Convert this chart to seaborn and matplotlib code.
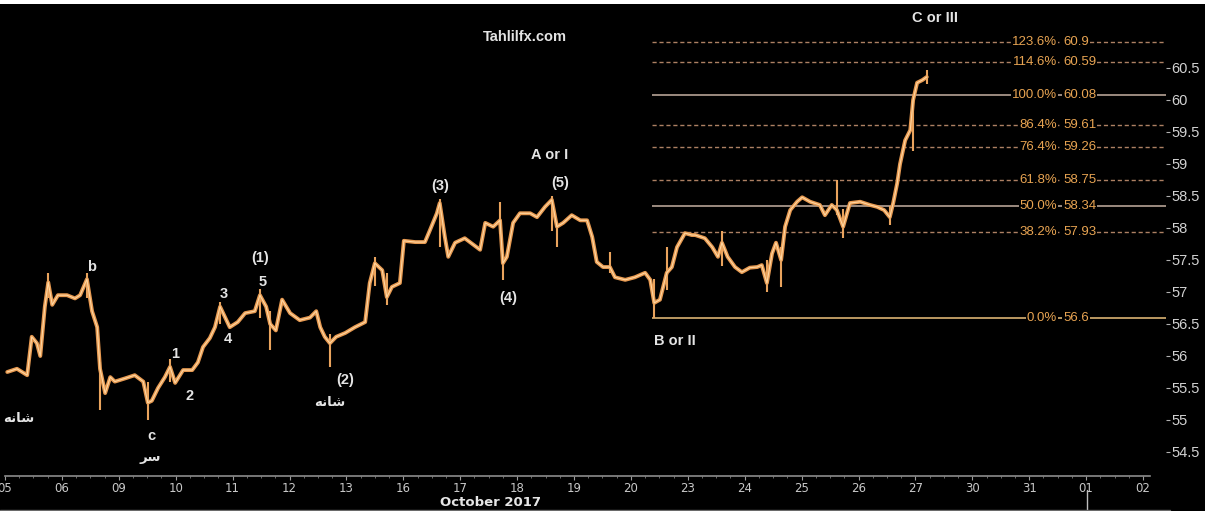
import matplotlib

matplotlib.use("Agg")

import pandas as pd
import seaborn as sns
import matplotlib.pyplot as plt
from matplotlib import font_manager
from matplotlib.lines import Line2D
from matplotlib.patches import Rectangle


# time in trading days (0 = Oct 05 open), price
price_t = [0.04, 0.21, 0.39, 0.47, 0.56, 0.62, 0.70, 0.76, 0.83, 0.93,
           1.09, 1.23, 1.32, 1.44, 1.53, 1.62, 1.67, 1.76, 1.85, 1.93,
           2.11, 2.28, 2.43, 2.51, 2.58, 2.69, 2.81, 2.90, 2.99, 3.13,
           3.29, 3.39, 3.48, 3.60, 3.69, 3.78, 3.87, 3.95, 4.09, 4.22,
           4.39, 4.48, 4.59, 4.66, 4.76, 4.87, 5.01, 5.18, 5.36, 5.47,
           5.54, 5.62, 5.71, 5.82, 5.98, 6.15, 6.33, 6.41, 6.50, 6.63,
           6.71, 6.80, 6.94, 7.01, 7.21, 7.38, 7.47, 7.59, 7.64, 7.73,
           7.79, 7.91, 8.08, 8.17, 8.35, 8.44, 8.58, 8.70, 8.75, 8.82,
           8.93, 9.05, 9.23, 9.35, 9.49, 9.61, 9.70, 9.81, 9.96, 10.11,
           10.23, 10.32, 10.40, 10.51, 10.63, 10.72, 10.90, 11.07, 11.25, 11.34,
           11.41, 11.51, 11.63, 11.72, 11.81, 11.95, 12.07, 12.13, 12.30, 12.43,
           12.53, 12.60, 12.70, 12.83, 12.95, 13.09, 13.22, 13.30, 13.39, 13.48,
           13.55, 13.64, 13.71, 13.80, 13.92, 14.01, 14.15, 14.32, 14.41, 14.53,
           14.62, 14.73, 14.85, 15.03, 15.20, 15.33, 15.45, 15.55, 15.61, 15.68,
           15.73, 15.82, 15.91, 15.96, 16.03, 16.12, 16.20]
price_v = [55.75, 55.80, 55.70, 56.30, 56.20, 56.00, 56.77, 57.15, 56.80, 56.95,
           56.95, 56.90, 56.95, 57.20, 56.70, 56.45, 55.80, 55.42, 55.67, 55.60,
           55.65, 55.70, 55.60, 55.27, 55.30, 55.50, 55.67, 55.83, 55.58, 55.78,
           55.78, 55.90, 56.14, 56.28, 56.45, 56.77, 56.60, 56.45, 56.53, 56.67,
           56.70, 56.95, 56.77, 56.50, 56.40, 56.88, 56.67, 56.56, 56.60, 56.70,
           56.45, 56.30, 56.20, 56.30, 56.36, 56.45, 56.53, 57.14, 57.45, 57.34,
           56.92, 57.08, 57.14, 57.80, 57.78, 57.78, 57.97, 58.23, 58.39, 57.86,
           57.55, 57.77, 57.84, 57.78, 57.66, 58.08, 58.02, 58.12, 57.45, 57.55,
           58.08, 58.23, 58.23, 58.17, 58.33, 58.44, 58.02, 58.08, 58.20, 58.12,
           58.12, 57.86, 57.47, 57.39, 57.39, 57.23, 57.19, 57.23, 57.30, 57.19,
           56.83, 56.88, 57.30, 57.39, 57.70, 57.92, 57.89, 57.89, 57.84, 57.70,
           57.55, 57.77, 57.55, 57.39, 57.31, 57.38, 57.39, 57.42, 57.14, 57.60,
           57.77, 57.50, 58.02, 58.28, 58.41, 58.48, 58.41, 58.36, 58.20, 58.36,
           58.28, 58.02, 58.39, 58.41, 58.36, 58.33, 58.28, 58.17, 58.39, 58.70,
           59.00, 59.37, 59.53, 60.00, 60.27, 60.31, 60.36]

# high/low wicks of the larger bars
wick_t = [0.76, 1.44, 1.67, 2.51, 2.90, 3.78, 4.48, 4.66, 5.71, 6.50,
          6.71, 7.64, 8.70, 8.75, 9.61, 9.70, 10.63, 11.41, 11.63, 12.60,
          13.39, 13.64, 14.62, 14.73, 15.55, 15.96, 16.20]
wick_lo = [56.90, 56.90, 55.16, 55.00, 55.60, 56.50, 56.60, 56.10, 55.83, 57.10,
           56.80, 57.70, 57.90, 57.19, 57.95, 57.70, 57.30, 56.60, 57.03, 57.40,
           57.00, 57.08, 58.20, 57.85, 58.05, 59.20, 60.25]
wick_hi = [57.30, 57.30, 55.90, 55.60, 55.95, 56.85, 57.05, 56.70, 56.35, 57.55,
           57.30, 58.45, 58.40, 57.60, 58.50, 58.10, 57.62, 57.20, 57.70, 57.95,
           57.50, 57.70, 58.75, 58.30, 58.35, 60.00, 60.47]

day_labels = ["05", "06", "09", "10", "11", "12", "13", "16", "17", "18", "19",
              "20", "23", "24", "25", "26", "27", "30", "31", "01", "02"]
y_ticks = [54.5, 55, 55.5, 56, 56.5, 57, 57.5, 58, 58.5, 59, 59.5, 60, 60.5]

fib_pct = ["123.6%", "114.6%", "100.0%", "86.4%", "76.4%", "61.8%", "50.0%", "38.2%", "0.0%"]
fib_val = [60.9, 60.59, 60.08, 59.61, 59.26, 58.75, 58.34, 57.93, 56.6]
fib_solid = [False, False, True, False, False, False, True, False, True]
fib_start = 11.37  # wave B low

# wave labels: text, time, price
wave_labels = [
    ("Tahlilfx.com", 9.14, 60.98),
    ("C or III", 16.34, 61.28),
    ("A or I", 9.58, 59.14),
    ("(3)", 7.64, 58.66),
    ("(5)", 9.75, 58.70),
    ("(4)", 8.84, 56.91),
    ("B or II", 11.78, 56.23),
    ("(1)", 4.48, 57.53),
    ("5", 4.52, 57.16),
    ("3", 3.85, 56.97),
    ("4", 3.92, 56.27),
    ("1", 2.99, 56.03),
    ("2", 3.25, 55.38),
    ("b", 1.53, 57.39),
    ("c", 2.58, 54.75),
    ("(2)", 5.98, 55.63),
]
# Persian labels, given in shaped (presentation) forms for left-to-right drawing
persian_labels = [
    ("\ufeae\ufeb3", 2.55, 54.42),                 # سر
    ("\ufeea\ufee7\ufe8e\ufeb7", 0.25, 55.03),     # شانه
    ("\ufeea\ufee7\ufe8e\ufeb7", 5.71, 55.28),     # شانه
]

W, H = 1205, 511
PX_DAY = 56.9

sns.set_theme(style="dark")
installed = {f.name for f in font_manager.fontManager.ttflist}
narrow = "Liberation Sans Narrow" if "Liberation Sans Narrow" in installed else "DejaVu Sans"
plt.rcParams["font.family"] = ["Liberation Sans", "DejaVu Sans"]

fig = plt.figure(figsize=(W / 100, H / 100), dpi=100, facecolor="black")
ax = fig.add_axes([5 / W, (H - 476) / H, 1161 / W, 472 / H])
ax.set_facecolor("black")

df = pd.DataFrame({"t": price_t, "price": price_v})
sns.lineplot(data=df, x="t", y="price", ax=ax, color="#e79a52", linewidth=2.8, zorder=4)
sns.lineplot(data=df, x="t", y="price", ax=ax, color="#ffd7a2", linewidth=0.8, zorder=5)
ax.vlines(wick_t, wick_lo, wick_hi, color="#e9a35d", linewidth=1.5, zorder=4)

x_end = (1166 - 5) / PX_DAY
for pct, val, solid in zip(fib_pct, fib_val, fib_solid):
    if solid:
        color = "#c9a46a" if val < 57 else "#a8968a"
        ax.hlines(val, fib_start, x_end, color=color, linewidth=1.3, zorder=2)
    else:
        ax.hlines(val, fib_start, x_end, color="#ad8063", linewidth=1.0,
                  linestyles=(0, (3, 2)), zorder=2)
    box = dict(facecolor="black", edgecolor="none", pad=0.6)
    ax.text((1057 - 5) / PX_DAY, val, pct, color="#e8a452", fontsize=9.5,
            ha="right", va="center", bbox=box, zorder=6)
    ax.text((1063 - 5) / PX_DAY, val, f"{val:g}", color="#e8a452", fontsize=9.5,
            ha="left", va="center", bbox=box, zorder=6)

for text, t, v in wave_labels:
    ax.text(t, v, text, color="#e4e4e4", fontsize=10.5, fontweight="bold",
            ha="center", va="center", zorder=7)
for text, t, v in persian_labels:
    ax.text(t, v, text, color="#e4e4e4", fontsize=9.5, fontweight="bold",
            family=["DejaVu Sans"], ha="center", va="center", zorder=7)

ax.set_xlim(0, x_end)
ax.set_ylim(54.125, 61.5)
ax.set_xlabel("")
ax.set_ylabel("")
ax.grid(False)

ax.set_xticks(range(len(day_labels)))
ax.set_xticklabels(day_labels, family=[narrow, "DejaVu Sans"], fontsize=8.5, color="#c8c8c8")
ax.set_xticks([i / 4 for i in range(4 * (len(day_labels) - 1) + 1)], minor=True)
ax.tick_params(axis="x", which="major", direction="out", length=3, width=0.8,
               color="#9a9a9a", pad=1.5, bottom=True)
ax.tick_params(axis="x", which="minor", direction="out", length=1.5, width=0.6,
               color="#7a7a7a", bottom=True)

ax.yaxis.tick_right()
ax.set_yticks(y_ticks)
ax.set_yticklabels([f"{v:g}" for v in y_ticks], fontsize=10.5, color="#d2d2d2")
ax.tick_params(axis="y", direction="out", length=3, width=0.8, color="#b0b0b0", pad=1, right=True)

for side in ("top", "left", "right"):
    ax.spines[side].set_visible(False)
ax.spines["bottom"].set_color("#8c8c8c")
ax.spines["bottom"].set_linewidth(1.2)
ax.spines["bottom"].set_bounds(0, (1150 - 5) / PX_DAY)

fig.text(490 / W, 1 - 502 / H, "October 2017", color="#e6e6e6", fontsize=9.5,
         fontweight="bold", family=[narrow, "DejaVu Sans"], ha="center", va="center")
fig.add_artist(Line2D([1087 / W, 1087 / W], [0, 21 / H], color="#bdbdbd", linewidth=1))
fig.add_artist(Line2D([0, 1170 / W], [1 / H, 1 / H], color="#6a6a6a", linewidth=1))
fig.patches.append(Rectangle((0, 1 - 4 / H), 1, 4 / H, transform=fig.transFigure,
                             facecolor="white", edgecolor="none"))

fig.savefig("out.png", dpi=100, facecolor="black")
plt.close(fig)
